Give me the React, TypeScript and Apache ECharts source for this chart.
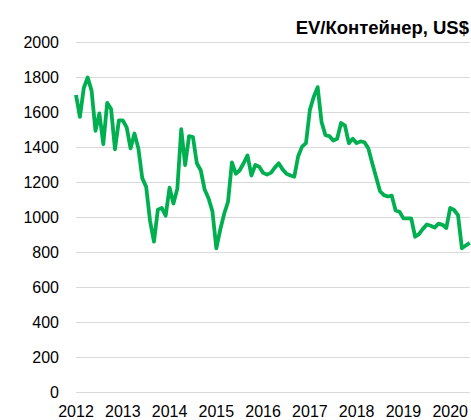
import React, { useEffect, useRef } from "react";
import * as echarts from "echarts";

const titleText = "EV/Контейнер, US$";

const values: number[] = [
  1700, 1575, 1740, 1800, 1725, 1495, 1595, 1420, 1655, 1620, 1390, 1555,
  1555, 1515, 1395, 1480, 1395, 1225, 1175, 980, 862, 1045, 1055, 1010,
  1170, 1080, 1165, 1505, 1300, 1465, 1460, 1310, 1270, 1160, 1110, 1035,
  824, 930, 1020, 1090, 1315, 1250, 1270, 1310, 1355, 1240, 1300, 1290,
  1255, 1245, 1255, 1285, 1310, 1275, 1250, 1240, 1233, 1350, 1405, 1425,
  1615, 1690, 1745, 1545, 1470, 1465, 1440, 1450, 1540, 1525, 1425, 1450,
  1425, 1435, 1430, 1395, 1310, 1230, 1150, 1128, 1120, 1125, 1040, 1033,
  995, 995, 995, 890, 905, 935, 960, 953, 942, 965, 958, 940,
  1055, 1043, 1014, 824, 840, 855,
];

const startYear = 2012;
const months: string[] = values.map((_, i) => {
  const y = startYear + Math.floor(i / 12);
  const m = (i % 12) + 1;
  return `${y}-${m < 10 ? "0" + m : m}`;
});

const yTicks = { min: 0, max: 2000, interval: 200 };

export default function App() {
  const ref = useRef<HTMLDivElement>(null);
  useEffect(() => {
    if (!ref.current) return;
    const chart = echarts.init(ref.current, null, { renderer: "svg" });
    chart.setOption({
      animation: false,
      backgroundColor: "#ffffff",
      title: {
        text: titleText,
        right: -3,
        top: 13,
        textStyle: {
          fontFamily: "Liberation Sans, Arial, sans-serif",
          fontSize: 18.5,
          fontWeight: "bold",
          color: "#000000",
        },
      },
      grid: { left: 76, right: 0, top: 42.5, bottom: 27.5, containLabel: false },
      xAxis: {
        type: "category",
        data: months,
        boundaryGap: false,
        axisLine: { show: false },
        axisTick: { show: false },
        splitLine: { show: false },
        axisLabel: {
          interval: 11,
          margin: 11,
          fontFamily: "Liberation Sans, Arial, sans-serif",
          fontSize: 16,
          color: "#000000",
          formatter: (v: string) => v.slice(0, 4),
        },
      },
      yAxis: {
        type: "value",
        min: yTicks.min,
        max: yTicks.max,
        interval: yTicks.interval,
        axisLine: { show: false },
        axisTick: { show: false },
        splitLine: { lineStyle: { color: "#d9d9d9", width: 1.2 } },
        axisLabel: {
          margin: 17,
          fontFamily: "Liberation Sans, Arial, sans-serif",
          fontSize: 16,
          color: "#000000",
          formatter: (v: number) => String(v),
        },
      },
      series: [
        {
          type: "line",
          data: values,
          symbol: "none",
          lineStyle: { color: "#00b050", width: 3.8, join: "round" },
        },
      ],
    });
    return () => chart.dispose();
  }, []);
  return (
    <div
      ref={ref}
      style={{ position: "fixed", left: 0, top: 0, width: 471, height: 420 }}
    />
  );
}
